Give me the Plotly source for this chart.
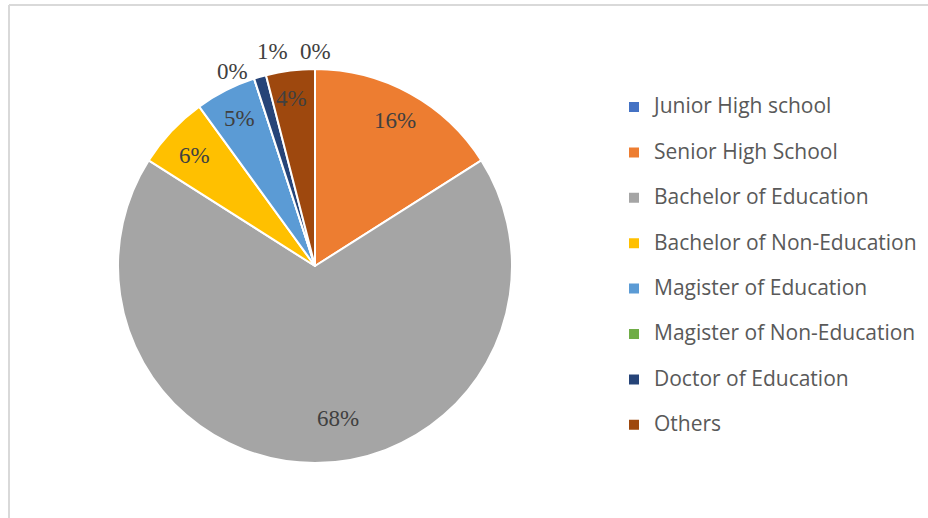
import math
import plotly.graph_objects as go

# Education level of respondents
categories = [
    "Junior High school",
    "Senior High School",
    "Bachelor of Education",
    "Bachelor of Non-Education",
    "Magister of Education",
    "Magister of Non-Education",
    "Doctor of Education",
    "Others",
]
shares = [0, 16, 68, 6, 5, 0, 1, 4]
colors = ["#4472C4", "#ED7D31", "#A5A5A5", "#FFC000",
          "#5B9BD5", "#70AD47", "#264478", "#9E480E"]
label_outside = [True, False, False, False, False, True, True, False]

W, H = 928, 518
cx, cy, r = 315, 266, 197

# small pixel nudges so crowded labels don't collide
label_nudge = {2: (23, -13), 3: (0, 3), 5: (-16, 10), 6: (17, -8), 7: (-3, -3)}

# legend labels: trailing blank line widens the row spacing
legend_labels = [
    f"<span style='font-size:21px'>{c}</span><br> " for c in categories
]

fig = go.Figure(go.Pie(
    labels=legend_labels,
    values=shares,
    sort=False,
    direction="clockwise",
    rotation=0,
    marker=dict(colors=colors, line=dict(color="white", width=2)),
    textinfo="none",
    hoverinfo="percent",
    domain=dict(x=[(cx - r) / W, (cx + r) / W],
                y=[(H - cy - r) / H, (H - cy + r) / H]),
))

# percentage labels placed at each slice's mid-angle
total = sum(shares)
annotations = []
cum = 0.0
for i, v in enumerate(shares):
    mid = math.radians((cum + v / 2) / total * 360)
    cum += v
    rad = r + 18 if label_outside[i] else 0.84 * r
    px = cx + math.sin(mid) * rad
    py = cy - math.cos(mid) * rad
    dx, dy = label_nudge.get(i, (0, 0))
    annotations.append(dict(
        x=(px + dx) / W, y=1 - (py + dy) / H,
        xref="paper", yref="paper",
        text=f"{round(v / total * 100)}%",
        showarrow=False, xanchor="center", yanchor="middle",
        font=dict(family="Liberation Serif", size=23, color="#404040"),
    ))

fig.update_layout(
    width=W, height=H,
    margin=dict(l=0, r=0, t=0, b=0),
    paper_bgcolor="white",
    plot_bgcolor="white",
    showlegend=True,
    legend=dict(
        x=614 / W, xanchor="left",
        y=1 - 90 / H, yanchor="top",
        font=dict(family="Open Sans", size=16.3, color="#595959"),
        valign="top",
        bgcolor="rgba(0,0,0,0)",
    ),
    annotations=annotations,
    shapes=[
        dict(type="line", xref="paper", yref="paper",
             x0=9 / W, x1=1, y0=1 - 5 / H, y1=1 - 5 / H,
             line=dict(color="#d9d9d9", width=2)),
        dict(type="line", xref="paper", yref="paper",
             x0=9 / W, x1=9 / W, y0=0, y1=1 - 5 / H,
             line=dict(color="#d9d9d9", width=2)),
    ],
)

fig.write_html("out.html")
